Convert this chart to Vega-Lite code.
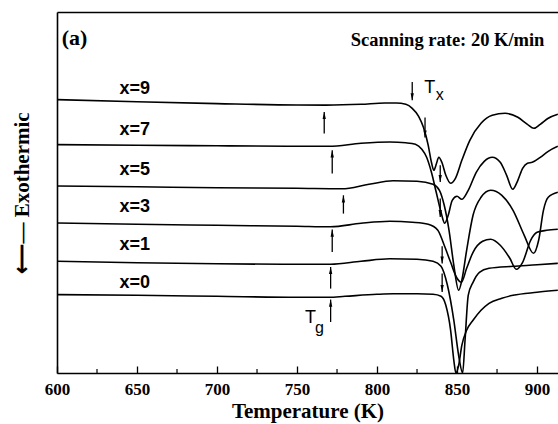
{
  "$schema": "https://vega.github.io/schema/vega-lite/v6.json",
  "width": 501,
  "height": 361,
  "autosize": {"type": "none"},
  "padding": {"left": 57, "top": 12, "right": 0, "bottom": 51},
  "background": "white",
  "config": {"view": {"stroke": null}, "font": "Liberation Serif"},
  "datasets": {
    "curves": [
      {"s":"x=9","T":600,"v":273.4},{"s":"x=9","T":650,"v":271.2},{"s":"x=9","T":700,"v":269.4},{"s":"x=9","T":750,"v":268},{"s":"x=9","T":768,"v":267.9},{"s":"x=9","T":790,"v":268.7},{"s":"x=9","T":805,"v":270},{"s":"x=9","T":812,"v":270},{"s":"x=9","T":818,"v":268.7},{"s":"x=9","T":822,"v":264.7},{"s":"x=9","T":826,"v":256.7},{"s":"x=9","T":829,"v":245.7},{"s":"x=9","T":832,"v":227.7},{"s":"x=9","T":834,"v":210.7},{"s":"x=9","T":835.5,"v":202.7},{"s":"x=9","T":837,"v":208.7},{"s":"x=9","T":838.6,"v":215.7},{"s":"x=9","T":840.5,"v":210.7},{"s":"x=9","T":843,"v":197.7},{"s":"x=9","T":846,"v":189.7},{"s":"x=9","T":849,"v":194.7},{"s":"x=9","T":853,"v":212.7},{"s":"x=9","T":858,"v":232.7},{"s":"x=9","T":865,"v":249.7},{"s":"x=9","T":872,"v":257.7},{"s":"x=9","T":880,"v":259.7},{"s":"x=9","T":888,"v":255.7},{"s":"x=9","T":894,"v":248.7},{"s":"x=9","T":898,"v":244.7},{"s":"x=9","T":902,"v":248.7},{"s":"x=9","T":907,"v":254.7},{"s":"x=9","T":913,"v":258.7},
      {"s":"x=7","T":600,"v":228.4},{"s":"x=7","T":650,"v":227.7},{"s":"x=7","T":700,"v":227.2},{"s":"x=7","T":750,"v":226.7},{"s":"x=7","T":770,"v":226.7},{"s":"x=7","T":790,"v":229.7},{"s":"x=7","T":808,"v":231},{"s":"x=7","T":818,"v":230.2},{"s":"x=7","T":824,"v":228.7},{"s":"x=7","T":828,"v":223.7},{"s":"x=7","T":831,"v":215.7},{"s":"x=7","T":834,"v":200.7},{"s":"x=7","T":837,"v":180.7},{"s":"x=7","T":840,"v":160.7},{"s":"x=7","T":842.3,"v":149.7},{"s":"x=7","T":844.5,"v":157.7},{"s":"x=7","T":847,"v":172.7},{"s":"x=7","T":850,"v":176.7},{"s":"x=7","T":853,"v":173.7},{"s":"x=7","T":857,"v":182.7},{"s":"x=7","T":862,"v":200.7},{"s":"x=7","T":867,"v":211.7},{"s":"x=7","T":872,"v":215.7},{"s":"x=7","T":877,"v":210.7},{"s":"x=7","T":881,"v":197.7},{"s":"x=7","T":884.8,"v":183.7},{"s":"x=7","T":888,"v":192.7},{"s":"x=7","T":891,"v":204.7},{"s":"x=7","T":894,"v":209.7},{"s":"x=7","T":897,"v":210.7},{"s":"x=7","T":902,"v":215.7},{"s":"x=7","T":907,"v":221.7},{"s":"x=7","T":913,"v":226.7},
      {"s":"x=5","T":600,"v":187},{"s":"x=5","T":650,"v":186.2},{"s":"x=5","T":700,"v":185.2},{"s":"x=5","T":750,"v":184.7},{"s":"x=5","T":778,"v":184.2},{"s":"x=5","T":795,"v":188.7},{"s":"x=5","T":810,"v":192.2},{"s":"x=5","T":825,"v":191.7},{"s":"x=5","T":835,"v":188.7},{"s":"x=5","T":839,"v":182.7},{"s":"x=5","T":842,"v":167.7},{"s":"x=5","T":845,"v":142.7},{"s":"x=5","T":848,"v":107.7},{"s":"x=5","T":851,"v":82.7},{"s":"x=5","T":853,"v":92.7},{"s":"x=5","T":856,"v":122.7},{"s":"x=5","T":860,"v":157.7},{"s":"x=5","T":865,"v":175.7},{"s":"x=5","T":871,"v":182.7},{"s":"x=5","T":878,"v":177.7},{"s":"x=5","T":885,"v":162.7},{"s":"x=5","T":892,"v":137.7},{"s":"x=5","T":897.8,"v":119.7},{"s":"x=5","T":901,"v":132.7},{"s":"x=5","T":904,"v":162.7},{"s":"x=5","T":907,"v":175.7},{"s":"x=5","T":913,"v":180.7},
      {"s":"x=3","T":600,"v":150},{"s":"x=3","T":650,"v":148.7},{"s":"x=3","T":700,"v":147.7},{"s":"x=3","T":750,"v":146.7},{"s":"x=3","T":771,"v":146.2},{"s":"x=3","T":790,"v":149.7},{"s":"x=3","T":808,"v":151.7},{"s":"x=3","T":822,"v":150.7},{"s":"x=3","T":832,"v":148.7},{"s":"x=3","T":838,"v":142.7},{"s":"x=3","T":842,"v":127.7},{"s":"x=3","T":846,"v":110.7},{"s":"x=3","T":850,"v":94.7},{"s":"x=3","T":852.7,"v":90.7},{"s":"x=3","T":856,"v":104.7},{"s":"x=3","T":860,"v":120.7},{"s":"x=3","T":866,"v":131.7},{"s":"x=3","T":871,"v":133.7},{"s":"x=3","T":877,"v":127.7},{"s":"x=3","T":883,"v":114.7},{"s":"x=3","T":887,"v":103.7},{"s":"x=3","T":891,"v":110.7},{"s":"x=3","T":896,"v":132.7},{"s":"x=3","T":900,"v":140.7},{"s":"x=3","T":906,"v":142.7},{"s":"x=3","T":913,"v":143.7},
      {"s":"x=1","T":600,"v":111.7},{"s":"x=1","T":650,"v":110.2},{"s":"x=1","T":700,"v":109.2},{"s":"x=1","T":750,"v":108.7},{"s":"x=1","T":771,"v":108.7},{"s":"x=1","T":790,"v":111.7},{"s":"x=1","T":808,"v":114.2},{"s":"x=1","T":825,"v":113.7},{"s":"x=1","T":835,"v":111.7},{"s":"x=1","T":840,"v":106.7},{"s":"x=1","T":844,"v":87.7},{"s":"x=1","T":848,"v":52.7},{"s":"x=1","T":851,"v":17.7},{"s":"x=1","T":853.5,"v":0},{"s":"x=1","T":855,"v":32.7},{"s":"x=1","T":857,"v":77.7},{"s":"x=1","T":860,"v":90.7},{"s":"x=1","T":864,"v":100.7},{"s":"x=1","T":870,"v":104.7},{"s":"x=1","T":885,"v":106.7},{"s":"x=1","T":900,"v":108.2},{"s":"x=1","T":913,"v":109.7},
      {"s":"x=0","T":600,"v":78.4},{"s":"x=0","T":650,"v":77.7},{"s":"x=0","T":700,"v":76.7},{"s":"x=0","T":750,"v":75.7},{"s":"x=0","T":770,"v":75.7},{"s":"x=0","T":780,"v":76.7},{"s":"x=0","T":800,"v":78.7},{"s":"x=0","T":810,"v":79.2},{"s":"x=0","T":825,"v":79.2},{"s":"x=0","T":835,"v":78.7},{"s":"x=0","T":840,"v":76.7},{"s":"x=0","T":843,"v":67.7},{"s":"x=0","T":846,"v":42.7},{"s":"x=0","T":848,"v":12.7},{"s":"x=0","T":849.3,"v":0},{"s":"x=0","T":851,"v":7.7},{"s":"x=0","T":853,"v":27.7},{"s":"x=0","T":856,"v":42.7},{"s":"x=0","T":860,"v":52.7},{"s":"x=0","T":865,"v":62.7},{"s":"x=0","T":870,"v":69.7},{"s":"x=0","T":878,"v":74.7},{"s":"x=0","T":885,"v":77.7},{"s":"x=0","T":900,"v":80.7},{"s":"x=0","T":913,"v":82.7}
    ],
    "arrows": [
      {"T":767,"tip":261,"tail":239.4,"dir":"up"},
      {"T":772,"tip":222.7,"tail":199.4,"dir":"up"},
      {"T":779,"tip":177.7,"tail":159.4,"dir":"up"},
      {"T":772,"tip":143.4,"tail":121,"dir":"up"},
      {"T":771,"tip":106,"tail":84.4,"dir":"up"},
      {"T":771,"tip":73.4,"tail":51,"dir":"up"},
      {"T":822,"tip":272.7,"tail":291,"dir":"down"},
      {"T":830,"tip":235.4,"tail":255.4,"dir":"down"},
      {"T":839.5,"tip":191,"tail":207.7,"dir":"down"},
      {"T":839.5,"tip":156,"tail":174.4,"dir":"down"},
      {"T":840.7,"tip":109.4,"tail":126.7,"dir":"down"},
      {"T":840.7,"tip":81,"tail":99.4,"dir":"down"}
    ],
    "labels": [
      {"T":639,"v":284.4,"t":"x=9"},
      {"T":639,"v":242.7,"t":"x=7"},
      {"T":639,"v":202.7,"t":"x=5"},
      {"T":639,"v":166,"t":"x=3"},
      {"T":639,"v":127.7,"t":"x=1"},
      {"T":639,"v":90,"t":"x=0"}
    ],
    "minor": [{"T":625},{"T":675},{"T":725},{"T":775},{"T":825},{"T":875}]
  },
  "layer": [
    {
      "data": {"name": "curves"},
      "mark": {"type": "line", "color": "black", "strokeWidth": 1.6, "interpolate": "monotone", "clip": true},
      "encoding": {
        "x": {"field": "T", "type": "quantitative", "scale": {"domain": [600, 913.1], "nice": false, "zero": false},
          "axis": {"orient": "bottom", "values": [600,650,700,750,800,850,900], "tickSize": -7, "tickColor": "black", "tickWidth": 1.3,
            "domainColor": "black", "domainWidth": 1.6, "grid": false, "labelFont": "Liberation Serif", "labelFontWeight": "bold",
            "labelFontSize": 17, "labelColor": "black", "labelPadding": 15, "labelFlush": false, "title": "Temperature (K)",
            "titleFont": "Liberation Serif", "titleFontWeight": "bold", "titleFontSize": 21, "titleColor": "black", "titlePadding": 3}},
        "y": {"field": "v", "type": "quantitative", "scale": {"domain": [0, 361], "nice": false, "zero": false},
          "axis": {"labels": false, "ticks": false, "grid": false, "domainColor": "black", "domainWidth": 1.6,
            "title": "⟵―  Exothermic", "titleFont": "Liberation Serif", "titleFontWeight": "bold", "titleFontSize": 21,
            "titleColor": "black", "titlePadding": 25}},
        "detail": {"field": "s", "type": "nominal"}
      }
    },
    {
      "data": {"name": "minor"},
      "mark": {"type": "rule", "color": "black", "strokeWidth": 1.2},
      "encoding": {
        "x": {"field": "T", "type": "quantitative", "axis": null},
        "y": {"datum": 0},
        "y2": {"datum": 4}
      }
    },
    {
      "data": {"name": "arrows"},
      "mark": {"type": "rule", "color": "black", "strokeWidth": 1.3},
      "encoding": {
        "x": {"field": "T", "type": "quantitative", "axis": null},
        "y": {"field": "tip", "type": "quantitative"},
        "y2": {"field": "tail"}
      }
    },
    {
      "data": {"name": "arrows"},
      "transform": [{"filter": "datum.dir === 'up'"}],
      "mark": {"type": "point", "shape": "M0,0L-0.35,1.5L0.35,1.5Z", "filled": true, "color": "black", "size": 90, "opacity": 1},
      "encoding": {
        "x": {"field": "T", "type": "quantitative", "axis": null},
        "y": {"field": "tip", "type": "quantitative"}
      }
    },
    {
      "data": {"name": "arrows"},
      "transform": [{"filter": "datum.dir === 'down'"}],
      "mark": {"type": "point", "shape": "M0,0L-0.35,-1.5L0.35,-1.5Z", "filled": true, "color": "black", "size": 90, "opacity": 1},
      "encoding": {
        "x": {"field": "T", "type": "quantitative", "axis": null},
        "y": {"field": "tip", "type": "quantitative"}
      }
    },
    {
      "data": {"name": "labels"},
      "mark": {"type": "text", "align": "left", "baseline": "middle", "font": "Liberation Sans", "fontWeight": "bold", "fontSize": 18, "color": "black"},
      "encoding": {
        "x": {"field": "T", "type": "quantitative", "axis": null},
        "y": {"field": "v", "type": "quantitative"},
        "text": {"field": "t"}
      }
    },
    {
      "data": {"values": [
        {"T":832.9,"v":284.7,"t":"T","k":"big"},
        {"T":839.2,"v":277.7,"t":"x","k":"sub"},
        {"T":758.4,"v":54.7,"t":"T","k":"big"},
        {"T":764,"v":44.7,"t":"g","k":"sub"}
      ]},
      "mark": {"type": "text", "align": "center", "baseline": "middle", "font": "Liberation Sans", "color": "black"},
      "encoding": {
        "x": {"field": "T", "type": "quantitative", "axis": null},
        "y": {"field": "v", "type": "quantitative"},
        "text": {"field": "t"},
        "size": {"field": "k", "type": "nominal", "scale": {"domain": ["big","sub"], "range": [18, 16]}, "legend": null}
      }
    },
    {
      "data": {"values": [{"T": 904.6, "v": 332.7, "t": "Scanning rate: 20 K/min"}]},
      "mark": {"type": "text", "align": "right", "baseline": "middle", "font": "Liberation Serif", "fontWeight": "bold", "fontSize": 18.5, "color": "black"},
      "encoding": {
        "x": {"field": "T", "type": "quantitative", "axis": null},
        "y": {"field": "v", "type": "quantitative"},
        "text": {"field": "t"}
      }
    },
    {
      "data": {"values": [{"T": 602.9, "v": 334.7, "t": "(a)"}]},
      "mark": {"type": "text", "align": "left", "baseline": "middle", "font": "Liberation Serif", "fontWeight": "bold", "fontSize": 22, "color": "black"},
      "encoding": {
        "x": {"field": "T", "type": "quantitative",
          "axis": {"orient": "top", "labels": false, "ticks": false, "grid": false, "title": null, "domainColor": "black", "domainWidth": 1.6}},
        "y": {"field": "v", "type": "quantitative"},
        "text": {"field": "t"}
      }
    }
  ],
  "resolve": {"axis": {"x": "independent"}}
}
